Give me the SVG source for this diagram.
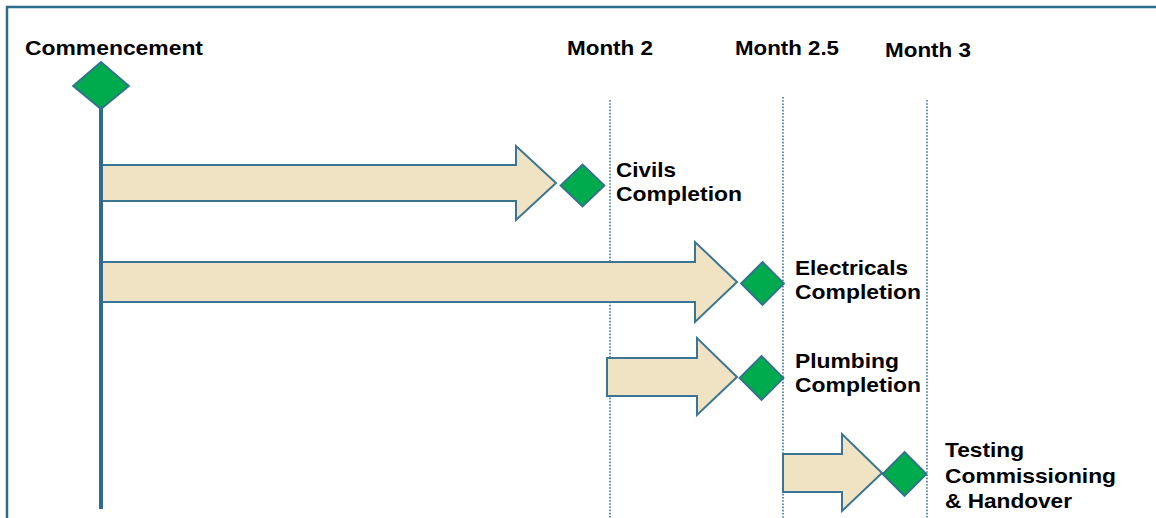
<svg xmlns="http://www.w3.org/2000/svg" width="1156" height="518" viewBox="0 0 1156 518">
  <style>
    .frame { stroke: #2d6c8c; stroke-width: 2.5; fill: none; }
    .axis { stroke: #2d6c8c; stroke-width: 4; fill: none; }
    .grid { stroke: #3a7a9c; stroke-width: 1.6; stroke-dasharray: 1.6 1.6; fill: none; }
    .arrow { fill: #f0e3c3; stroke: #3b7595; stroke-width: 2; stroke-linejoin: miter; }
    .ms { fill: #00ab4e; stroke: #33718f; stroke-width: 1.8; }
    .hdr { font-family: "Liberation Sans", Arial, sans-serif; font-weight: bold; font-size: 21px; fill: #000; }
    .lbl { font-family: "Liberation Sans", Arial, sans-serif; font-weight: bold; font-size: 20px; fill: #000; }
  </style>
  <rect width="1156" height="518" fill="#ffffff"/>
  <g id="frame">
    <path class="frame" d="M7,518 V7 H1156"/>
  </g>
  <g id="gridlines">
    <line class="grid" x1="610" y1="100" x2="610" y2="518"/>
    <line class="grid" x1="783" y1="97" x2="783" y2="518"/>
    <line class="grid" x1="927" y1="100" x2="927" y2="518"/>
  </g>
  <g id="headers">
    <text class="hdr" x="567" y="55" textLength="86" lengthAdjust="spacingAndGlyphs">Month 2</text>
    <text class="hdr" x="735" y="55" textLength="104" lengthAdjust="spacingAndGlyphs">Month 2.5</text>
    <text class="hdr" x="885" y="57" textLength="86" lengthAdjust="spacingAndGlyphs">Month 3</text>
  </g>
  <g id="connectors">
    <path id="arrow-civils" class="arrow" d="M101,165 H516 V146 L556,183 L516,220 V201 H101 Z"/>
    <path id="arrow-electricals" class="arrow" d="M101,262 H695 V242 L737,282 L695,322 V302 H101 Z"/>
    <path id="arrow-plumbing" class="arrow" d="M607,358 H697 V338 L737,377 L697,415 V396 H607 Z"/>
    <path id="arrow-testing" class="arrow" d="M783,454 H842 V434 L882,473 L842,511 V492 H783 Z"/>
  </g>
  <g id="commencement">
    <line class="axis" x1="101" y1="108" x2="101" y2="509"/>
    <polygon class="ms" points="101,62 129,86 101,109 73,86"/>
    <text class="hdr" x="25" y="55" textLength="178" lengthAdjust="spacingAndGlyphs">Commencement</text>
  </g>
  <g id="civils">
    <polygon class="ms" points="582.5,164.5 604.5,185.5 582.5,206.5 560.5,185.5"/>
    <text class="lbl" x="616" y="177" textLength="60" lengthAdjust="spacingAndGlyphs">Civils</text>
    <text class="lbl" x="616" y="201" textLength="126" lengthAdjust="spacingAndGlyphs">Completion</text>
  </g>
  <g id="electricals">
    <polygon class="ms" points="762.5,262 784,283.5 762.5,305 741,283.5"/>
    <text class="lbl" x="795" y="275" textLength="113" lengthAdjust="spacingAndGlyphs">Electricals</text>
    <text class="lbl" x="795" y="299" textLength="126" lengthAdjust="spacingAndGlyphs">Completion</text>
  </g>
  <g id="plumbing">
    <polygon class="ms" points="761.5,356 783.5,378 761.5,400 739.5,378"/>
    <text class="lbl" x="795" y="368" textLength="104" lengthAdjust="spacingAndGlyphs">Plumbing</text>
    <text class="lbl" x="795" y="392" textLength="126" lengthAdjust="spacingAndGlyphs">Completion</text>
  </g>
  <g id="testing">
    <polygon class="ms" points="904.5,452 926.5,474 904.5,496 882.5,474"/>
    <text class="lbl" x="945" y="457" textLength="79" lengthAdjust="spacingAndGlyphs">Testing</text>
    <text class="lbl" x="945" y="483" textLength="171" lengthAdjust="spacingAndGlyphs">Commissioning</text>
    <text class="lbl" x="945" y="508" textLength="127" lengthAdjust="spacingAndGlyphs">&amp; Handover</text>
  </g>
</svg>
